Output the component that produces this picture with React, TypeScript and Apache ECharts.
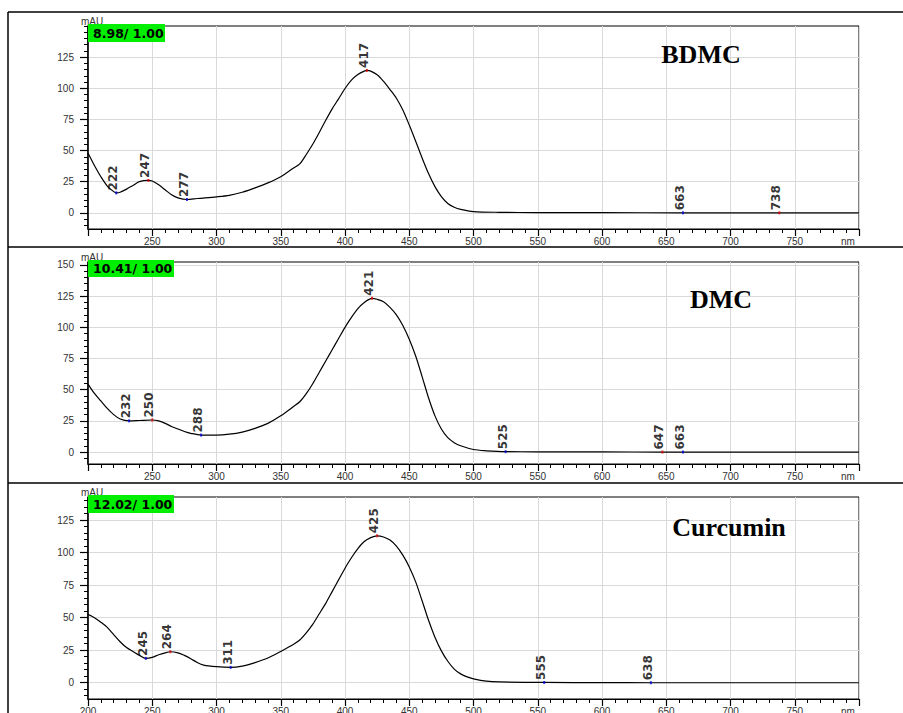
import React, { useEffect, useRef } from 'react';
import * as echarts from 'echarts';

// ---------- data ----------
const PANEL_TITLES = ['BDMC', 'DMC', 'Curcumin'];
const RATIO_LABELS = ['8.98/ 1.00', '10.41/ 1.00', '12.02/ 1.00'];

const bdmcWavelength = [200, 205, 210, 215, 220, 222, 225, 230, 235, 240, 247, 250, 255, 260, 265, 270, 277, 285, 300, 310, 320, 330, 340, 350, 360, 365, 370, 375, 380, 385, 390, 395, 400, 405, 410, 415, 417, 420, 425, 430, 435, 440, 445, 450, 455, 460, 465, 470, 475, 480, 485, 490, 500, 520, 550, 600, 663, 700, 738, 800];
const bdmcAbsorbance = [48, 38, 29, 21.5, 17, 16, 16.5, 19, 22, 25, 26, 25.5, 22.5, 18.5, 14.5, 12, 10.7, 11.5, 12.8, 14, 16.5, 20, 24, 29, 36, 39.5, 47, 55.2, 64.5, 74.3, 83.5, 91.5, 99.8, 106.5, 111, 113.8, 114.3, 113.8, 110.8, 105.5, 99, 92, 82.5, 70.5, 57.5, 44, 31.5, 21, 13, 7.5, 4.5, 2.8, 1, 0.4, 0.2, 0.1, 0, 0, 0, 0];
const bdmcPeaks = [222, 247, 277, 417, 663, 738];
const bdmcPeakKinds = ['min', 'max', 'min', 'max', 'min', 'max'];

const dmcWavelength = [200, 205, 210, 215, 220, 225, 232, 240, 250, 255, 260, 265, 270, 275, 280, 288, 300, 310, 320, 330, 340, 350, 360, 365, 370, 375, 380, 385, 390, 395, 400, 405, 410, 415, 421, 425, 430, 435, 440, 445, 450, 455, 460, 465, 470, 475, 480, 485, 490, 500, 510, 525, 550, 600, 647, 663, 800];
const dmcAbsorbance = [54.5, 47, 41, 35, 30, 26.5, 25, 25.3, 25.7, 25, 23, 20.5, 18.5, 16.5, 15, 13.6, 13.6, 14.3, 16, 19, 23, 29, 36.5, 40.5, 47, 55, 64, 73, 82, 91, 100, 108, 115, 120, 123.3, 122.5, 120.5, 116, 110, 101.5, 90.5, 77, 60.5, 43.5, 29, 18.5, 11.5, 7.5, 5, 2, 1, 0.3, 0.2, 0.1, 0, 0, 0];
const dmcPeaks = [232, 250, 288, 421, 525, 647, 663];
const dmcPeakKinds = ['min', 'max', 'min', 'max', 'min', 'max', 'min'];

const curWavelength = [200, 205, 210, 215, 220, 225, 230, 235, 240, 245, 250, 255, 260, 264, 270, 275, 280, 285, 290, 300, 311, 320, 330, 340, 350, 360, 365, 370, 375, 380, 385, 390, 395, 400, 405, 410, 415, 420, 425, 430, 435, 440, 445, 450, 455, 460, 465, 470, 475, 480, 485, 490, 495, 500, 510, 520, 555, 600, 638, 800];
const curAbsorbance = [52.5, 50, 46.5, 42.5, 37, 31.5, 27, 24, 21, 18.7, 19.5, 21.5, 23, 23.8, 23, 21, 18.5, 15.5, 13.5, 12.3, 11.8, 12.8, 15.5, 19, 24, 29.5, 33, 38.5, 45, 53, 61, 70, 79, 88, 96, 103, 108.5, 111.5, 112.9, 112, 109.6, 105, 98, 89, 77.5, 63, 48, 35, 24.5, 16.5, 10.5, 6.8, 4.5, 3, 1.2, 0.6, 0.2, 0.1, 0, 0];
const curPeaks = [245, 264, 311, 425, 555, 638];
const curPeakKinds = ['min', 'max', 'min', 'max', 'min', 'min'];

const yTickLabels1 = [0, 25, 50, 75, 100, 125];
const yTickLabels2 = [0, 25, 50, 75, 100, 125, 150];
const yTickLabels3 = [0, 25, 50, 75, 100, 125];

// ---------- layout ----------
const PLOT_LEFT = 88;
const PLOT_WIDTH = 771;

const panels = [
  { xs: bdmcWavelength, ys: bdmcAbsorbance, peaks: bdmcPeaks, kinds: bdmcPeakKinds, yLabels: yTickLabels1, yMin: -13, yMax: 150, top: 26, height: 203, showMinX: false, title: { x: 701, y: 54 }, box: { y: 24, w: 77, h: 18 } },
  { xs: dmcWavelength, ys: dmcAbsorbance, peaks: dmcPeaks, kinds: dmcPeakKinds, yLabels: yTickLabels2, yMin: -9.6, yMax: 152.4, top: 262, height: 202, showMinX: false, title: { x: 721, y: 299 }, box: { y: 260, w: 86, h: 17 } },
  { xs: curWavelength, ys: curAbsorbance, peaks: curPeaks, kinds: curPeakKinds, yLabels: yTickLabels3, yMin: -12.5, yMax: 142.7, top: 497, height: 202, showMinX: true, title: { x: 729, y: 527 }, box: { y: 495, w: 86, h: 18 } },
];

function minorValues(min: number, max: number) {
  const out: number[] = [];
  for (let v = Math.ceil(min / 5) * 5; v <= max; v += 5) out.push(v);
  return out;
}

export default function App() {
  const ref = useRef<HTMLDivElement>(null);

  useEffect(() => {
    if (!ref.current) return;
    const chart = echarts.init(ref.current, null, { renderer: 'svg' });

    const grid: any[] = [];
    const xAxis: any[] = [];
    const yAxis: any[] = [];
    const series: any[] = [];
    const graphic: any[] = [];

    const labelFont = 'Liberation Sans, Arial, sans-serif';

    panels.forEach((p, i) => {
      grid.push({
        left: PLOT_LEFT, top: p.top, width: PLOT_WIDTH, height: p.height,
        show: true, borderColor: '#000', borderWidth: 1, backgroundColor: 'transparent',
        containLabel: false, outerBoundsMode: 'none',
      });
      xAxis.push({
        type: 'value', gridIndex: i, min: 200, max: 800, interval: 50,
        axisLine: { show: true, onZero: false, lineStyle: { color: '#000', width: 1.2 } },
        axisTick: { show: true, length: 7, lineStyle: { color: '#000', width: 1.2 } },
        minorTick: { show: true, splitNumber: 5, length: 4, lineStyle: { color: '#000', width: 1 } },
        splitLine: { show: true, lineStyle: { color: '#d9d9d9', width: 1 } },
        axisLabel: { fontSize: 10, color: '#333', margin: 7, fontFamily: labelFont, showMinLabel: p.showMinX, showMaxLabel: false },
      });
      yAxis.push({
        type: 'value', gridIndex: i, min: p.yMin, max: p.yMax, position: 'left',
        axisLine: { show: true, onZero: false, lineStyle: { color: '#000', width: 1.6 } },
        axisTick: { show: true, length: 8, customValues: p.yLabels, lineStyle: { color: '#000', width: 1.2 } },
        axisLabel: { customValues: p.yLabels, fontSize: 10, color: '#333', margin: 14, fontFamily: labelFont },
        splitLine: { show: true, lineStyle: { color: '#d9d9d9', width: 1 } },
      });
      yAxis.push({
        type: 'value', gridIndex: i, min: p.yMin, max: p.yMax, position: 'left', offset: 0,
        axisLine: { show: false },
        axisTick: { show: true, length: 4, customValues: minorValues(p.yMin, p.yMax), lineStyle: { color: '#000', width: 1 } },
        axisLabel: { show: false },
        splitLine: { show: false },
      });

      series.push({
        type: 'line', xAxisIndex: i, yAxisIndex: 2 * i,
        data: p.xs.map((x, j) => [x, p.ys[j]]),
        showSymbol: false, smooth: 0.3,
        lineStyle: { color: '#000', width: 1.2 },
        z: 3, silent: true,
      });
      series.push({
        type: 'scatter', xAxisIndex: i, yAxisIndex: 2 * i,
        data: p.peaks.map((x, k) => ({
          value: [x, p.ys[p.xs.indexOf(x)]],
          itemStyle: { color: p.kinds[k] === 'max' ? '#e00000' : '#0000e0' },
        })),
        symbol: 'rect', symbolSize: [2, 3],
        label: {
          show: true, position: 'top', distance: 1, rotate: 90,
          align: 'left', verticalAlign: 'middle', offset: [0, -3],
          formatter: (q: any) => String(q.value[0]),
          fontSize: 12, fontWeight: 'bold', fontFamily: 'DejaVu Sans', color: '#000',
        },
        z: 4, silent: true,
      });

      // ratio box
      graphic.push({
        type: 'rect', shape: { x: PLOT_LEFT, y: p.box.y, width: p.box.w, height: p.box.h },
        style: { fill: '#00ee00' }, z: 10,
      });
      graphic.push({
        type: 'text', x: PLOT_LEFT + 5, y: p.box.y + p.box.h / 2,
        style: { text: RATIO_LABELS[i], font: 'bold 12.5px "DejaVu Sans"', fill: '#000', textVerticalAlign: 'middle' }, z: 11,
      });
      // mAU unit
      graphic.push({
        type: 'text', x: 92, y: p.top - 5,
        style: { text: 'mAU', font: '10px "Liberation Sans"', fill: '#333', textAlign: 'center', textVerticalAlign: 'middle' }, z: 9,
      });
      // nm unit
      graphic.push({
        type: 'text', x: 848, y: p.top + p.height + 12,
        style: { text: 'nm', font: '10px "Liberation Sans"', fill: '#333', textAlign: 'center', textVerticalAlign: 'middle' }, z: 9,
      });
      // title
      graphic.push({
        type: 'text', x: p.title.x, y: p.title.y,
        style: { text: PANEL_TITLES[i], font: 'bold 26px "Liberation Serif", "Times New Roman", serif', fill: '#000', textAlign: 'center', textVerticalAlign: 'middle' }, z: 9,
      });
    });

    // outer frame lines
    const frame = [
      [8, 12, 903, 12],
      [8, 12, 8, 713],
      [8, 247, 903, 247],
      [8, 483, 903, 483],
    ];
    frame.forEach(([x1, y1, x2, y2]) => {
      graphic.push({ type: 'line', shape: { x1, y1, x2, y2 }, style: { stroke: '#000', lineWidth: 1.5 }, z: 12 });
    });

    chart.setOption({
      animation: false,
      backgroundColor: '#fff',
      grid, xAxis, yAxis, series, graphic,
    });

    return () => chart.dispose();
  }, []);

  return (
    <div
      ref={ref}
      style={{ position: 'fixed', left: 0, top: 0, width: 903, height: 713 }}
    />
  );
}
